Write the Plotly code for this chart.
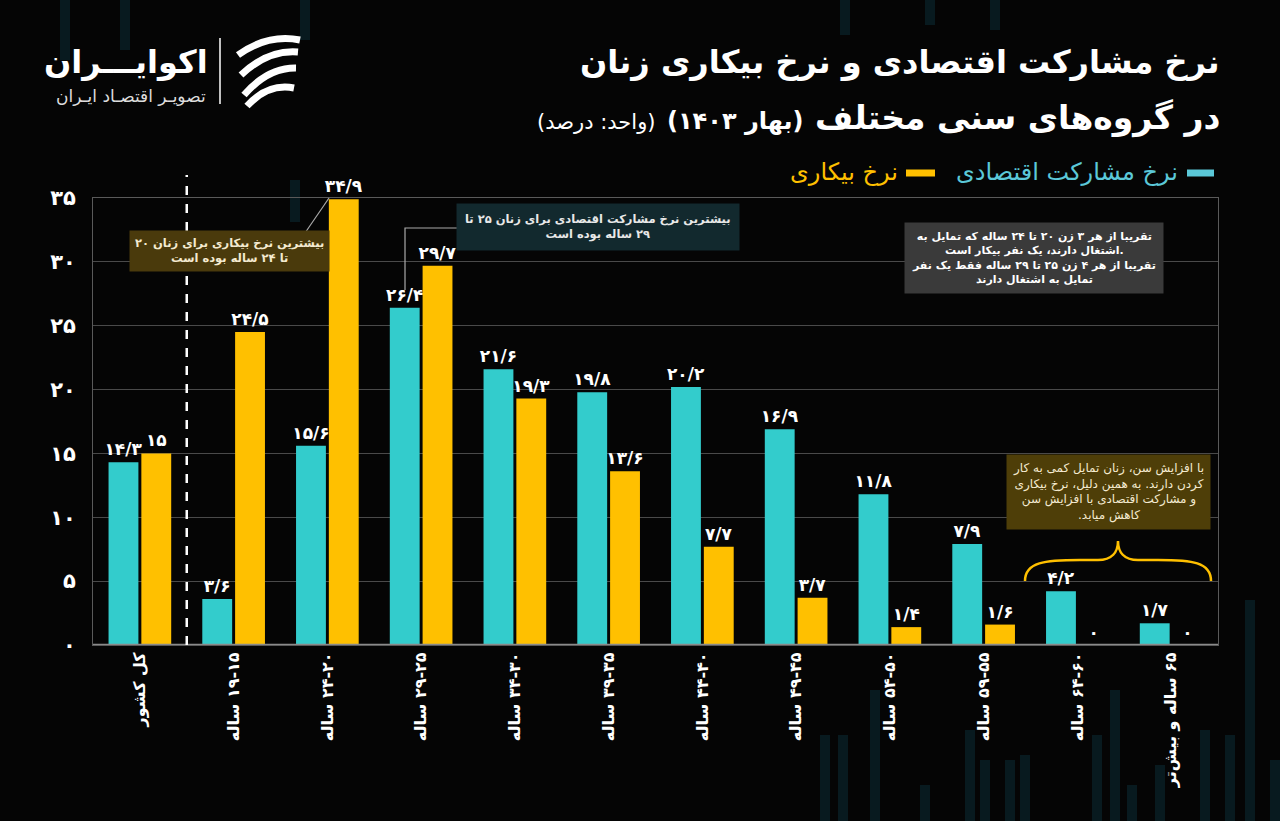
import plotly.graph_objects as go

# ---------------- data ----------------
categories = ["کل کشور", "۱۹-۱۵ ساله", "۲۴-۲۰ ساله", "۲۹-۲۵ ساله", "۳۴-۳۰ ساله", "۳۹-۳۵ ساله",
              "۴۴-۴۰ ساله", "۴۹-۴۵ ساله", "۵۴-۵۰ ساله", "۵۹-۵۵ ساله", "۶۴-۶۰ ساله", "۶۵ ساله و بیش‌تر"]
participation = [14.3, 3.6, 15.6, 26.4, 21.6, 19.8, 20.2, 16.9, 11.8, 7.9, 4.2, 1.7]
participation_labels = ["۱۴/۳", "۳/۶", "۱۵/۶", "۲۶/۴", "۲۱/۶", "۱۹/۸", "۲۰/۲", "۱۶/۹", "۱۱/۸", "۷/۹", "۴/۲", "۱/۷"]
unemployment = [15, 24.5, 34.9, 29.7, 19.3, 13.6, 7.7, 3.7, 1.4, 1.6, 0, 0]
unemployment_labels = ["۱۵", "۲۴/۵", "۳۴/۹", "۲۹/۷", "۱۹/۳", "۱۳/۶", "۷/۷", "۳/۷", "۱/۴", "۱/۶", "۰", "۰"]
y_tickvals = [0, 5, 10, 15, 20, 25, 30, 35]
y_ticktext = ["۰", "۵", "۱۰", "۱۵", "۲۰", "۲۵", "۳۰", "۳۵"]

TEAL = "#33CCCC"
YELLOW = "#FFC000"
BG = "#050505"
FONT = "DejaVu Sans"
RLM = "\u200f"

# plot area in pixels
L, R, T, B = 93, 1218, 198, 645
W, H = R - L, B - T


def px(x):
    return (x - L) / W


def py(y):
    return (B - y) / H


def rtl(s):
    return RLM + s + RLM


tick_text = [rtl(c) for c in categories]

fig = go.Figure()
fig.add_trace(go.Bar(
    x=categories, y=participation, name="نرخ مشارکت اقتصادی",
    marker=dict(color=TEAL, line=dict(width=0)),
    text=participation_labels, textposition="outside", constraintext="none",
    textfont=dict(color="white", size=17, family=FONT, weight="bold"),
    cliponaxis=False, hoverinfo="x+y",
))
fig.add_trace(go.Bar(
    x=categories, y=unemployment, name="نرخ بیکاری",
    marker=dict(color=YELLOW, line=dict(width=0)),
    text=unemployment_labels, textposition="outside", constraintext="none",
    textfont=dict(color="white", size=17, family=FONT, weight="bold"),
    cliponaxis=False, hoverinfo="x+y",
))

shapes = []
annotations = []

# decorative faint background bars
deco = [(290, 180, 222), (300, 0, 40), (60, 0, 60), (120, 0, 50), (840, 0, 35), (925, 0, 25),
        (990, 0, 30), (1245, 600, 821), (1270, 760, 821), (820, 735, 821), (838, 735, 821),
        (870, 690, 821), (920, 785, 821), (965, 730, 821), (980, 760, 821), (1005, 760, 821),
        (1020, 755, 821), (1092, 735, 821), (1110, 690, 821), (1127, 785, 821), (1200, 730, 821),
        (1225, 735, 821), (1155, 765, 821)]
for x0, y0, y1 in deco:
    shapes.append(dict(type="rect", xref="paper", yref="paper", x0=px(x0), x1=px(x0 + 10),
                       y0=py(y1), y1=py(y0), fillcolor="#081a1f", line=dict(width=0), layer="below"))

# baseline
shapes.append(dict(type="line", xref="paper", yref="y", x0=0, x1=1, y0=0, y1=0,
                   line=dict(color="#8a8a8a", width=2.5)))

# dashed separator
shapes.append(dict(type="line", xref="x", yref="paper", x0=0.5, x1=0.5, y0=0, y1=py(175),
                   line=dict(color="white", width=2.5, dash="dash")))

# leader lines
shapes.append(dict(type="line", xref="paper", yref="paper", x0=px(305), y0=py(233), x1=px(329), y1=py(198),
                   line=dict(color="#aaaaaa", width=1.2)))
shapes.append(dict(type="path", xref="paper", yref="paper",
                   path=f"M {px(467)},{py(228)} L {px(405)},{py(228)} L {px(405)},{py(290)}",
                   line=dict(color="#aaaaaa", width=1.2)))

# brace over the last two groups
bx0, bx1, bxm = px(1025), px(1211), px(1118)
by_end, by_mid, by_tip = py(581), py(560), py(541)
brace = (f"M {bx0},{by_end} C {bx0},{py(562)} {px(1045)},{by_mid} {px(1080)},{by_mid} "
         f"L {px(1098)},{by_mid} C {px(1112)},{by_mid} {bxm},{py(552)} {bxm},{by_tip} "
         f"C {bxm},{py(552)} {px(1124)},{by_mid} {px(1138)},{by_mid} "
         f"L {px(1158)},{by_mid} C {px(1192)},{by_mid} {bx1},{py(562)} {bx1},{by_end}")
shapes.append(dict(type="path", xref="paper", yref="paper", path=brace,
                   line=dict(color=YELLOW, width=2.5)))

# legend (custom)
shapes.append(dict(type="line", xref="paper", yref="paper", x0=px(1187), x1=px(1214), y0=py(173), y1=py(173),
                   line=dict(color="#5bc8d8", width=7)))
shapes.append(dict(type="line", xref="paper", yref="paper", x0=px(906), x1=px(935), y0=py(173), y1=py(173),
                   line=dict(color=YELLOW, width=7)))
annotations.append(dict(xref="paper", yref="paper", x=px(1180), y=py(172), xanchor="right", yanchor="middle",
                        text=rtl("نرخ مشارکت اقتصادی"), showarrow=False,
                        font=dict(color="#5bc8d8", size=24, family=FONT)))
annotations.append(dict(xref="paper", yref="paper", x=px(900), y=py(172), xanchor="right", yanchor="middle",
                        text=rtl("نرخ بیکاری"), showarrow=False,
                        font=dict(color=YELLOW, size=24, family=FONT)))

# title
annotations.append(dict(xref="paper", yref="paper", x=px(1222), y=py(62), xanchor="right", yanchor="middle",
                        text=rtl("نرخ مشارکت اقتصادی و نرخ بیکاری زنان"), showarrow=False,
                        font=dict(color="white", size=32, family=FONT, weight="bold")))
annotations.append(dict(xref="paper", yref="paper", x=px(1222), y=py(118), xanchor="right", yanchor="middle",
                        text=RLM + "در گروه‌های سنی مختلف " +
                        "<span style='font-size:24px'>(بهار ۱۴۰۳)</span> " +
                        "<span style='font-size:21px;font-weight:normal'>(واحد: درصد)</span>" + RLM,
                        showarrow=False,
                        font=dict(color="white", size=33, family=FONT, weight="bold")))

# logo
annotations.append(dict(xref="paper", yref="paper", x=px(210), y=py(62), xanchor="right", yanchor="middle",
                        text="اکوایـــران", showarrow=False,
                        font=dict(color="white", size=32, family=FONT, weight="bold")))
annotations.append(dict(xref="paper", yref="paper", x=px(208), y=py(96), xanchor="right", yanchor="middle",
                        text="تصویـر اقتصـاد ایـران", showarrow=False,
                        font=dict(color="#dddddd", size=17, family=FONT)))
shapes.append(dict(type="line", xref="paper", yref="paper", x0=px(220), x1=px(220), y0=py(38), y1=py(104),
                   line=dict(color="white", width=1.5)))
for i, (ya, yb) in enumerate([(55, 40), (75, 52), (95, 68), (106, 88)]):
    shapes.append(dict(type="path", xref="paper", yref="paper",
                       path=f"M {px(238 + i*3)},{py(ya)} Q {px(268)},{py((ya+yb)/2 - 14)} {px(300 - i*2)},{py(yb)}",
                       line=dict(color="white", width=7)))

# annotation boxes
annotations.append(dict(xref="paper", yref="paper", x=px(229), y=py(251), xanchor="center", yanchor="middle",
                        text=rtl("بیشترین نرخ بیکاری برای زنان ۲۰") + "<br>" + rtl("تا ۲۴ ساله بوده است"),
                        showarrow=False, align="center", bgcolor="#4a3a0c", borderpad=5,
                        font=dict(color="#f4ead0", size=11.5, family=FONT, weight="bold")))
annotations.append(dict(xref="paper", yref="paper", x=px(598), y=py(227), xanchor="center", yanchor="middle",
                        text=rtl("بیشترین نرخ مشارکت اقتصادی برای زنان ۲۵ تا") + "<br>" + rtl("۲۹ ساله بوده است"),
                        showarrow=False, align="center", bgcolor="#12292e", borderpad=8,
                        font=dict(color="#e8e8e8", size=11.5, family=FONT, weight="bold")))
annotations.append(dict(xref="paper", yref="paper", x=px(1034), y=py(258), xanchor="center", yanchor="middle",
                        text=rtl("تقریبا از هر ۳ زن ۲۰ تا ۲۴ ساله که تمایل به") + "<br>" +
                        "اشتغال دارند، یک نفر بیکار است." + "<br>" +
                        rtl("تقریبا از هر ۴ زن ۲۵ تا ۲۹ ساله فقط یک نفر") + "<br>" +
                        rtl("تمایل به اشتغال دارند"),
                        showarrow=False, align="center", bgcolor="#3a3a3a", borderpad=7,
                        font=dict(color="white", size=11, family=FONT, weight="bold")))
annotations.append(dict(xref="paper", yref="paper", x=px(1108), y=py(492), xanchor="center", yanchor="middle",
                        text=rtl("با افزایش سن، زنان تمایل کمی به کار") + "<br>" +
                        rtl("کردن دارند. به همین دلیل، نرخ بیکاری") + "<br>" +
                        rtl("و مشارکت اقتصادی با افزایش سن") + "<br>" +
                        ".کاهش میابد",
                        showarrow=False, align="center", bgcolor="#4e3e08", borderpad=6,
                        font=dict(color="#f4ead0", size=12, family=FONT)))

fig.update_layout(
    width=1280, height=821,
    paper_bgcolor=BG, plot_bgcolor=BG,
    margin=dict(l=L, r=1280 - R, t=T, b=821 - B, pad=0),
    barmode="group", bargap=0.3, bargroupgap=0.09,
    showlegend=False,
    shapes=shapes, annotations=annotations,
    font=dict(family=FONT, color="white"),
    xaxis=dict(
        type="category", tickangle=-90, showgrid=False,
        tickmode="array", tickvals=categories, ticktext=tick_text,
        showline=True, mirror=True, linecolor="#5a5a5a", linewidth=1,
        ticks="", tickfont=dict(color="white", size=16, family=FONT, weight="bold"),
        fixedrange=True,
    ),
    yaxis=dict(
        range=[0, 35], tickvals=y_tickvals, ticktext=y_ticktext,
        showgrid=True, gridcolor="#4a4a4a", gridwidth=1, zeroline=False,
        showline=True, mirror=True, linecolor="#5a5a5a", linewidth=1,
        ticks="", ticklabelstandoff=12,
        tickfont=dict(color="white", size=21, family=FONT, weight="bold"),
        fixedrange=True,
    ),
)

fig.write_html("out.html", config={"displayModeBar": False},
               post_script="document.body.style.margin='0';document.body.style.background='#050505';")
